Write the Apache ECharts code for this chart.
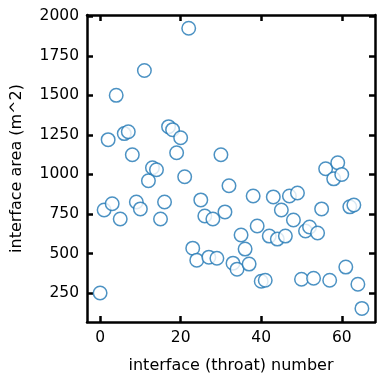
<!DOCTYPE html>
<html><head><meta charset="utf-8">
<script src="https://cdn.jsdelivr.net/npm/echarts@6/dist/echarts.min.js"></script>
<style>html,body{margin:0;padding:0;background:#fff}#c{width:383px;height:384px}</style>
</head><body><div id="c"></div>
<script>
const areaValues = [250,775,1220,815,1500,718,1258,1270,1124,826,782,1657,960,1042,1030,718,826,1302,1283,1137,1232,985,1924,534,458,839,737,477,718,470,1124,763,928,439,401,617,528,433,864,674,325,331,610,858,591,775,610,864,712,883,337,642,668,344,630,782,1036,331,972,1074,1000,414,795,807,306,153];
const xTicks = [0,20,40,60];
const yTicks = [250,500,750,1000,1250,1500,1750,2000];
const xLabel = 'interface (throat) number';
const yLabel = 'interface area (m^2)';

const data = areaValues.map((v,i)=>[i,v]);
const font = 'DejaVu Sans';
const xr = {min:-3.25, max:68.25};
const yr = {min:67, max:2008};
const line = {show:true, onZero:false, lineStyle:{color:'#000', width:2.5}};
const tickIn = (vals)=>({show:true, inside:true, length:6, customValues:vals, lineStyle:{color:'#000', width:2.5}});
const fmt = v => String(Math.round(v));
const chart = echarts.init(document.getElementById('c'), null, {renderer:'canvas'});
chart.setOption({
  animation:false,
  grid:{left:87, right:8, top:15, bottom:62},
  xAxis:[
    {type:'value', position:'bottom', ...xr, axisLine:line, axisTick:tickIn(xTicks), splitLine:{show:false},
     axisLabel:{customValues:xTicks, formatter:fmt, color:'#000', fontFamily:font, fontSize:15.5, margin:8},
     name:xLabel, nameLocation:'middle', nameGap:36, nameTextStyle:{color:'#000', fontFamily:font, fontSize:16}},
    {type:'value', position:'top', ...xr, axisLine:line, axisTick:tickIn(xTicks), splitLine:{show:false}, axisLabel:{show:false}}
  ],
  yAxis:[
    {type:'value', position:'left', ...yr, axisLine:line, axisTick:tickIn(yTicks), splitLine:{show:false},
     axisLabel:{customValues:yTicks, formatter:fmt, color:'#000', fontFamily:font, fontSize:15.5, margin:8},
     name:yLabel, nameLocation:'middle', nameGap:62, nameTextStyle:{color:'#000', fontFamily:font, fontSize:16}},
    {type:'value', position:'right', ...yr, axisLine:line, axisTick:tickIn(yTicks), splitLine:{show:false}, axisLabel:{show:false}}
  ],
  series:[{type:'scatter', data:data, symbol:'circle', symbolSize:13.5,
    itemStyle:{color:'#fff', borderColor:'#1f77b4', borderWidth:1.5}}]
});
</script></body></html>
